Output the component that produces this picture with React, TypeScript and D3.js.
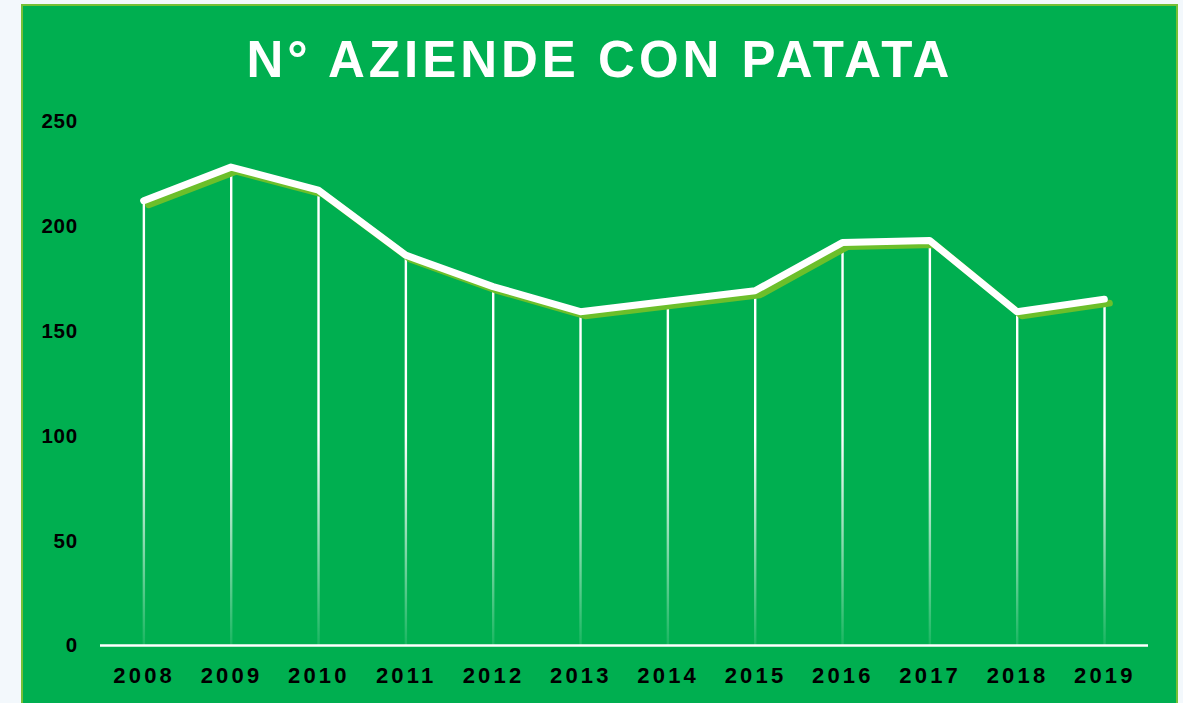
import { useEffect, useRef } from "react";
import * as d3 from "d3";

const years = ["2008", "2009", "2010", "2011", "2012", "2013", "2014", "2015", "2016", "2017", "2018", "2019"];
const aziende = [212, 228, 217, 186, 171, 159, 164, 169, 192, 193, 159, 165];
const yTicks = [0, 50, 100, 150, 200, 250];
const title = "N° AZIENDE CON PATATA";

const W = 1183;
const H = 703;
const bg = "#00af50";
const shadow = "#6cbf2a";

export default function App() {
  const svgRef = useRef<SVGSVGElement>(null);

  useEffect(() => {
    const svg = d3.select(svgRef.current);
    svg.selectAll("*").remove();

    const x = d3.scaleBand().domain(years).range([100, 1148]);
    const y = d3.scaleLinear().domain([0, 250]).range([645, 121]);
    const cx = (d: string) => x(d)! + x.bandwidth() / 2;

    svg.append("rect").attr("width", W).attr("height", H).attr("fill", "#f3f8fc");
    svg
      .append("rect")
      .attr("x", 22)
      .attr("y", 5)
      .attr("width", 1155)
      .attr("height", H + 5)
      .attr("fill", bg)
      .attr("stroke", "#76c036")
      .attr("stroke-width", 2);

    svg
      .append("text")
      .attr("x", 600)
      .attr("y", 77)
      .attr("text-anchor", "middle")
      .attr("fill", "#fff")
      .attr("font-family", "Liberation Sans, Arial, sans-serif")
      .attr("font-weight", "bold")
      .attr("font-size", 51)
      .attr("letter-spacing", 4)
      .text(title);

    const defs = svg.append("defs");
    const grad = defs
      .append("linearGradient")
      .attr("id", "drop")
      .attr("gradientUnits", "userSpaceOnUse")
      .attr("x1", 0)
      .attr("x2", 0)
      .attr("y1", y(250))
      .attr("y2", y(0));
    grad.append("stop").attr("offset", "0.6").attr("stop-color", "#fff").attr("stop-opacity", 1);
    grad.append("stop").attr("offset", "1").attr("stop-color", "#fff").attr("stop-opacity", 0.1);

    // drop lines
    svg
      .append("g")
      .selectAll("rect")
      .data(aziende)
      .join("rect")
      .attr("x", (_, i) => cx(years[i]) - 1)
      .attr("y", (d) => y(d))
      .attr("width", 2.4)
      .attr("height", (d) => y(0) - y(d))
      .attr("fill", "url(#drop)");

    // baseline
    svg
      .append("line")
      .attr("x1", 100)
      .attr("x2", 1148)
      .attr("y1", y(0) + 0.5)
      .attr("y2", y(0) + 0.5)
      .attr("stroke", "#fff")
      .attr("stroke-width", 2.5);

    const line = d3
      .line<number>()
      .x((_, i) => cx(years[i]))
      .y((d) => y(d));

    svg
      .append("path")
      .attr("d", line(aziende))
      .attr("transform", "translate(5,4)")
      .attr("fill", "none")
      .attr("stroke", shadow)
      .attr("stroke-width", 7)
      .attr("stroke-linejoin", "round")
      .attr("stroke-linecap", "round");

    svg
      .append("path")
      .attr("d", line(aziende))
      .attr("fill", "none")
      .attr("stroke", "#fff")
      .attr("stroke-width", 7)
      .attr("stroke-linejoin", "round")
      .attr("stroke-linecap", "round");

    // y labels
    svg
      .append("g")
      .selectAll("text")
      .data(yTicks)
      .join("text")
      .attr("x", 78)
      .attr("y", (d) => y(d))
      .attr("dy", "0.36em")
      .attr("text-anchor", "end")
      .attr("font-family", "Liberation Sans, Arial, sans-serif")
      .attr("font-weight", "bold")
      .attr("font-size", 20.5)
      .attr("letter-spacing", 0.8)
      .attr("fill", "#000")
      .text((d) => d);

    // x labels
    svg
      .append("g")
      .selectAll("text")
      .data(years)
      .join("text")
      .attr("x", (d) => cx(d) + 0.5)
      .attr("y", 683)
      .attr("text-anchor", "middle")
      .attr("font-family", "Liberation Sans, Arial, sans-serif")
      .attr("font-weight", "bold")
      .attr("font-size", 22)
      .attr("letter-spacing", 3.2)
      .attr("fill", "#000")
      .text((d) => d);
  }, []);

  return (
    <svg
      ref={svgRef}
      width={W}
      height={H}
      style={{ position: "absolute", left: 0, top: 0, display: "block" }}
    />
  );
}
